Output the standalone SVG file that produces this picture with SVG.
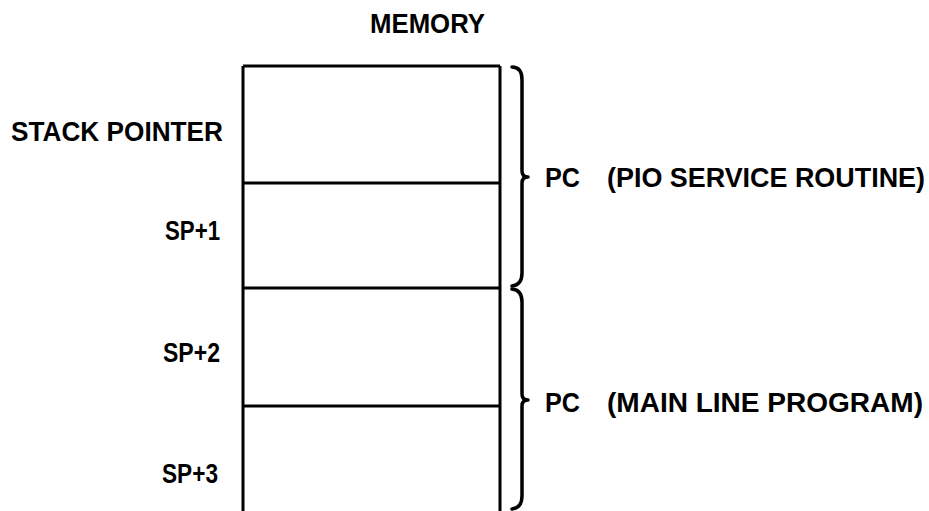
<svg xmlns="http://www.w3.org/2000/svg" width="929" height="511" viewBox="0 0 929 511">
<style>
text{font-family:"Liberation Sans",Arial,sans-serif;font-weight:bold;font-size:27px;fill:#000}
.ln{stroke:#000;stroke-width:3;fill:none}
.br{stroke:#000;stroke-width:3.5;fill:none;stroke-linejoin:round;stroke-linecap:round}
</style>
<rect width="929" height="511" fill="#fff"/>
<text x="370" y="33" textLength="115" lengthAdjust="spacingAndGlyphs">MEMORY</text>
<g id="memory">
<path class="ln" d="M243,66 H500 M243,66 V511 M500,66 V511"/>
</g>
<g id="cell-sp">
<line class="ln" x1="243" y1="183" x2="500" y2="183"/>
<text x="11" y="141" textLength="212" lengthAdjust="spacingAndGlyphs">STACK POINTER</text>
</g>
<g id="cell-sp1">
<line class="ln" x1="243" y1="288" x2="500" y2="288"/>
<text x="165" y="240" textLength="55" lengthAdjust="spacingAndGlyphs">SP+1</text>
</g>
<g id="cell-sp2">
<line class="ln" x1="243" y1="406" x2="500" y2="406"/>
<text x="163" y="362" textLength="57" lengthAdjust="spacingAndGlyphs">SP+2</text>
</g>
<g id="cell-sp3">
<text x="162" y="483" textLength="56" lengthAdjust="spacingAndGlyphs">SP+3</text>
</g>
<g id="brace-pio">
<path class="br" d="M512,67 Q522,67 522,80 V171 Q522,177 528,177 Q522,177 522,183 V273 Q522,285 512,286"/>
<text x="545" y="187" textLength="35" lengthAdjust="spacingAndGlyphs">PC</text>
<text x="607" y="187" textLength="318" lengthAdjust="spacingAndGlyphs">(PIO SERVICE ROUTINE)</text>
</g>
<g id="brace-main">
<path class="br" d="M512,289 Q522,290 522,302 V394 Q522,400 528,400 Q522,400 522,406 V496 Q522,508 512,509"/>
<text x="545" y="412" textLength="35" lengthAdjust="spacingAndGlyphs">PC</text>
<text x="607" y="412" textLength="316" lengthAdjust="spacingAndGlyphs">(MAIN LINE PROGRAM)</text>
</g>
</svg>
